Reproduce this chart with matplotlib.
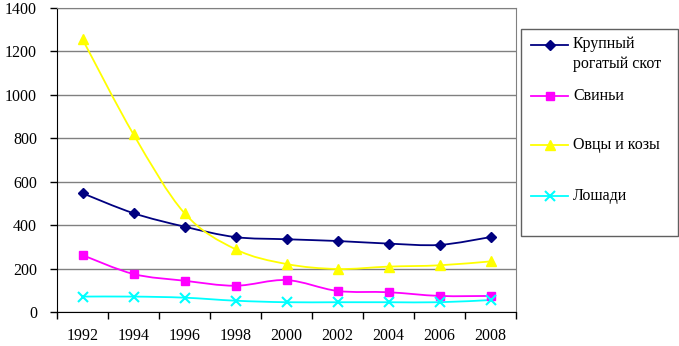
import matplotlib
matplotlib.use("Agg")
import matplotlib.pyplot as plt
from matplotlib.path import Path
from matplotlib.patches import PathPatch, Rectangle
from matplotlib.lines import Line2D
import numpy as np

years = ["1992", "1994", "1996", "1998", "2000", "2002", "2004", "2006", "2008"]
cattle = [547, 455, 393, 345, 335, 327, 315, 309, 345]
pigs = [262, 175, 144, 121, 147, 97, 91, 74, 74]
sheep = [1256, 818, 455, 289, 221, 198, 209, 215, 233]
horses = [71, 71, 66, 52, 45, 45, 45, 45, 55]

labels = ["Крупный\nрогатый скот", "Свиньи", "Овцы и козы", "Лошади"]
colors = ["#000080", "#FF00FF", "#FFFF00", "#00FFFF"]
markers = ["D", "s", "^", "x"]
msizes = [5.5, 6, 7, 6.5]
series = [cattle, pigs, sheep, horses]

plt.rcParams['font.family'] = ['Liberation Serif', 'DejaVu Serif']
W, H = 679, 346
fig = plt.figure(figsize=(W / 100, H / 100), dpi=100)
ax = fig.add_axes([57 / W, (H - 312) / H, (516 - 57) / W, (312 - 8) / H])

x = np.arange(len(years))


def smooth_path(xs, ys):
    pts = np.column_stack([xs, ys]).astype(float)
    n = len(pts)
    verts = [pts[0]]
    codes = [Path.MOVETO]
    for i in range(n - 1):
        p0 = pts[i - 1] if i > 0 else pts[i]
        p1 = pts[i]
        p2 = pts[i + 1]
        p3 = pts[i + 2] if i + 2 < n else pts[i + 1]
        c1 = p1 + (p2 - p0) / 6.0
        c2 = p2 - (p3 - p1) / 6.0
        verts += [c1, c2, p2]
        codes += [Path.CURVE4] * 3
    return Path(verts, codes)


for vals, c, m, ms in zip(series, colors, markers, msizes):
    patch = PathPatch(smooth_path(x, vals), fill=False, edgecolor=c, lw=1.3,
                      transform=ax.transData, zorder=3)
    ax.add_patch(patch)
    ax.plot(x, vals, linestyle="none", marker=m, color=c, markersize=ms,
            markeredgewidth=1.5 if m == "x" else 1, zorder=4)

ax.set_xlim(-0.5, len(years) - 0.5)
ax.set_ylim(0, 1400)
ax.set_yticks(range(0, 1401, 200))
ax.set_xticks(x)
ax.set_xticklabels(years)
ax.set_xticks(np.arange(-0.5, len(years), 1), minor=True)
ax.tick_params(axis="x", which="major", length=0, pad=11.5, labelsize=11.5)
ax.tick_params(axis="x", which="minor", length=5, width=1, direction="out", color="black")
ax.tick_params(axis="y", length=5, width=1, direction="out", pad=9.4, labelsize=11.5)
ax.grid(axis="y", color="#808080", lw=1)
ax.set_axisbelow(True)
for s in ["top", "right"]:
    ax.spines[s].set_color("#808080")
for s in ["left", "bottom"]:
    ax.spines[s].set_color("black")

# legend box
fig.patches.append(Rectangle((521 / W, (H - 236) / H), (678 - 521) / W, (236 - 29) / H,
                             transform=fig.transFigure, fill=False, edgecolor="#606060", lw=1))
ys_px = [45, 96, 145, 196]
for lab, c, m, ms, yp in zip(labels, colors, markers, msizes, ys_px):
    yf = (H - yp) / H
    fig.lines.append(Line2D([531 / W, 568 / W], [yf, yf], color=c, lw=1.3,
                            transform=fig.transFigure))
    fig.lines.append(Line2D([549.5 / W], [yf], color=c, marker=m, markersize=ms,
                            markeredgewidth=1.5 if m == "x" else 1,
                            transform=fig.transFigure))
    if "\n" in lab:
        fig.text(573 / W, (H - yp + 9) / H, lab, fontsize=11.5, va="top", ha="left",
                 linespacing=1.3, transform=fig.transFigure)
    else:
        fig.text(573 / W, yf, lab, fontsize=11.5, va="center", ha="left",
                 transform=fig.transFigure)

fig.savefig("out.png", dpi=100)
